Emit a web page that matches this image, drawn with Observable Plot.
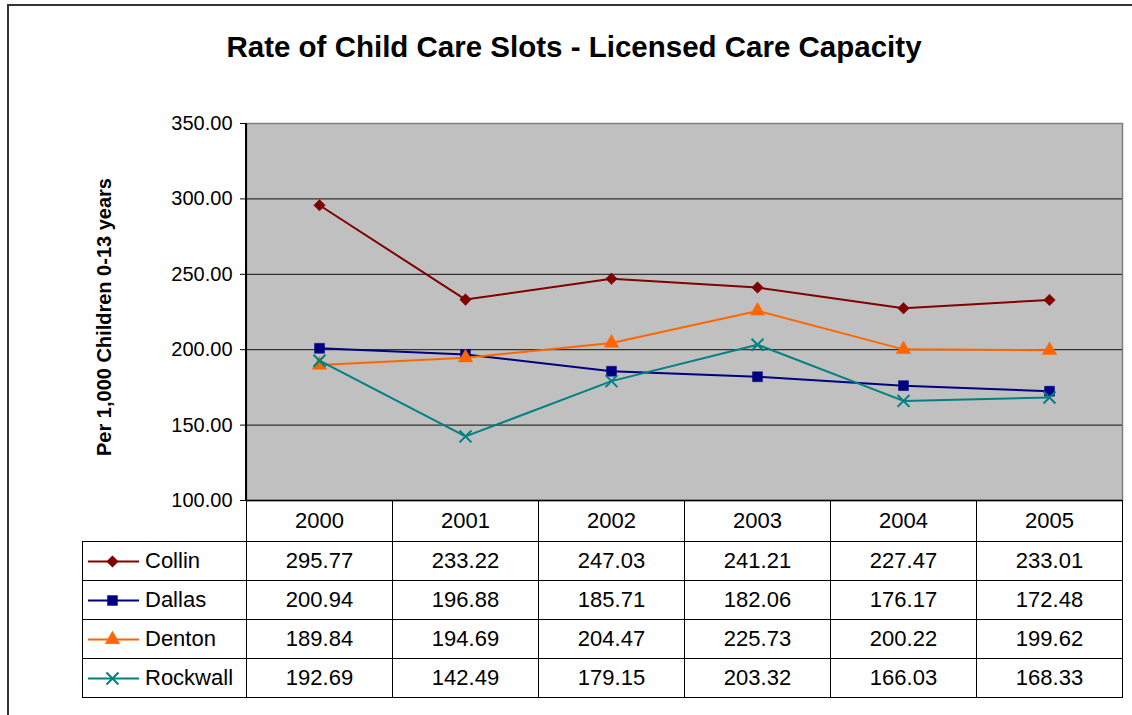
<!DOCTYPE html>
<html>
<head>
<meta charset="utf-8">
<script src="https://cdn.jsdelivr.net/npm/d3@7"></script>
<script src="https://cdn.jsdelivr.net/npm/@observablehq/plot@0.6"></script>
<style>
  html, body { margin: 0; padding: 0; background: #fff; }
  #wrap { position: relative; width: 1132px; height: 715px; overflow: hidden; font-family: "Liberation Sans", Arial, sans-serif; color: #000; }
  #outer { position: absolute; left: 7px; top: 4px; width: 1300px; height: 900px; border: 2px solid #333; box-sizing: border-box; }
  #title { position: absolute; left: 0; width: 1148px; top: 30px; text-align: center; font-weight: bold; font-size: 29.5px; white-space: nowrap; }
  #ylabel { position: absolute; left: 104px; top: 317px; transform: translate(-50%, -50%) rotate(-90deg); font-weight: bold; font-size: 20px; white-space: nowrap; }
  #chart { position: absolute; left: 0; top: 0; }
  .cell { position: absolute; box-sizing: border-box; border: 1px solid #000; font-size: 22px; display: flex; align-items: center; justify-content: center; }
  .leg { justify-content: flex-start; }
  .leg svg { display: block; }
</style>
</head>
<body>
<div id="wrap">
  <div id="outer"></div>
  <div id="chart"></div>
  <div id="title">Rate of Child Care Slots - Licensed Care Capacity</div>
  <div id="ylabel">Per 1,000 Children 0-13 years</div>
</div>
<script>
const years = ["2000", "2001", "2002", "2003", "2004", "2005"];
const series = ["Collin", "Dallas", "Denton", "Rockwall"];
const collin = [295.77, 233.22, 247.03, 241.21, 227.47, 233.01];
const dallas = [200.94, 196.88, 185.71, 182.06, 176.17, 172.48];
const denton = [189.84, 194.69, 204.47, 225.73, 200.22, 199.62];
const rockwall = [192.69, 142.49, 179.15, 203.32, 166.03, 168.33];
const yTicks = [100, 150, 200, 250, 300, 350];
const colors = ["#800000", "#000080", "#FF6600", "#008080"];
const symbols = ["diamond2", "square", "triangle", "times"];
const radii = [5.2, 5.6, 5.4, 5.5];

const values = [collin, dallas, denton, rockwall];
const data = series.flatMap((s, j) => values[j].map((v, i) => ({series: s, year: years[i], value: v})));
const fmt = d3.format(".2f");

const marginLeft = 246, marginRight = 10, marginTop = 123, plotBottom = 500;
const width = 1132;

const seriesMarks = series.flatMap((s, j) => {
  const d = data.filter(r => r.series === s);
  const isStroke = symbols[j] === "times";
  return [
    Plot.line(d, {x: "year", y: "value", stroke: colors[j], strokeWidth: 2}),
    Plot.dot(d, {x: "year", y: "value", symbol: symbols[j], r: radii[j],
      fill: isStroke ? "none" : colors[j], stroke: colors[j], strokeWidth: isStroke ? 2 : 0.5})
  ];
});

const chart = Plot.plot({
  width, height: plotBottom,
  marginLeft, marginRight, marginTop, marginBottom: 0,
  style: {fontFamily: "'Liberation Sans', Arial, sans-serif", fontSize: "20px", background: "transparent", overflow: "visible", color: "#000"},
  x: {type: "point", domain: years, padding: 0.5, axis: null},
  y: {domain: [100, 350], axis: null},
  marks: [
    Plot.frame({fill: "#c0c0c0", stroke: "#808080", strokeWidth: 1.5}),
    Plot.ruleY(yTicks.slice(1, -1), {stroke: "#333", strokeWidth: 1.2}),
    Plot.ruleY([100], {stroke: "#000", strokeWidth: 1.5}),
    Plot.axisY({ticks: yTicks, tickFormat: fmt, tickSize: 6, tickPadding: 8, label: null, fontSize: 20, stroke: "#000"}),
    ...seriesMarks
  ]
});
document.getElementById("chart").appendChild(chart);

// left axis line
const wrap = document.getElementById("wrap");
const axLine = document.createElement("div");
axLine.style.cssText = `position:absolute;left:${marginLeft - 1}px;top:${marginTop}px;width:1.5px;height:${plotBottom - marginTop}px;background:#000;`;
wrap.appendChild(axLine);

// data table
const colW = (width - marginLeft - marginRight) / years.length;
const headH = 41, rowH = 39, legL = 82;
function cell(x, y, w, h, cls) {
  const c = document.createElement("div");
  c.className = "cell" + (cls ? " " + cls : "");
  c.style.left = x + "px"; c.style.top = y + "px";
  c.style.width = (w + 1) + "px"; c.style.height = (h + 1) + "px";
  wrap.appendChild(c);
  return c;
}
years.forEach((yr, i) => {
  cell(marginLeft + i * colW, plotBottom, colW, headH).textContent = yr;
});
series.forEach((s, j) => {
  const top = plotBottom + headH + j * rowH;
  const lc = cell(legL, top, marginLeft - legL, rowH, "leg");
  const sw = Plot.plot({
    width: 51, height: 20, margin: 0,
    x: {domain: [0, 1], axis: null}, y: {domain: [-1, 1], axis: null},
    style: {background: "transparent", overflow: "visible"},
    marks: [
      Plot.ruleY([0], {stroke: colors[j], strokeWidth: 2}),
      Plot.dot([0.47], {x: d => d, y: () => 0, symbol: symbols[j], r: radii[j],
        fill: symbols[j] === "times" ? "none" : colors[j], stroke: colors[j], strokeWidth: symbols[j] === "times" ? 2 : 0.5})
    ]
  });
  sw.style.marginLeft = "5px";
  sw.style.marginRight = "6px";
  lc.appendChild(sw);
  const t = document.createElement("span");
  t.textContent = s;
  lc.appendChild(t);
  values[j].forEach((v, i) => {
    cell(marginLeft + i * colW, top, colW, rowH).textContent = fmt(v);
  });
});
</script>
</body>
</html>
